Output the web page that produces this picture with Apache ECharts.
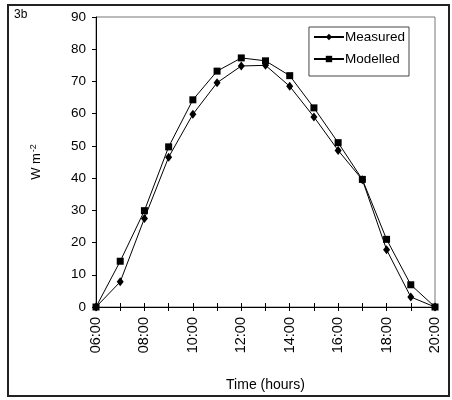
<!DOCTYPE html>
<html>
<head>
<meta charset="utf-8">
<script src="https://cdn.jsdelivr.net/npm/echarts@6/dist/echarts.min.js"></script>
<style>
  html, body { margin: 0; padding: 0; background: #fff; }
  #chart { width: 452px; height: 400px; }
</style>
</head>
<body>
<div id="chart"></div>
<script>
// Hourly times of day
const hours = ['06:00','07:00','08:00','09:00','10:00','11:00','12:00','13:00',
               '14:00','15:00','16:00','17:00','18:00','19:00','20:00'];
// Flux in W m-2
const measured = [0, 7.8, 27.5, 46.5, 59.8, 69.6, 74.8, 75, 68.5, 59, 48.6, 39.5, 17.8, 3.1, 0];
const modelled = [0, 14.2, 29.9, 49.7, 64.3, 73.2, 77.3, 76.4, 71.8, 61.8, 51, 39.6, 21, 6.9, 0];

const FONT = 'Liberation Sans';
const chart = echarts.init(document.getElementById('chart'), null, { renderer: 'canvas' });

chart.setOption({
  animation: false,
  backgroundColor: '#fff',
  textStyle: { fontFamily: FONT, color: '#000' },
  grid: { left: 96, right: 17, top: 17, bottom: 93, show: true, borderColor: '#777', borderWidth: 1 },
  legend: {
    right: 43, top: 27, orient: 'vertical', itemGap: 8,
    itemWidth: 30, itemHeight: 8,
    borderColor: '#444', borderWidth: 1, padding: [3, 4, 10, 4],
    textStyle: { fontFamily: FONT, fontSize: 13.5, color: '#000', padding: [0, 0, 0, -4] },
    data: ['Measured', 'Modelled']
  },
  xAxis: [{
    type: 'category', data: hours, boundaryGap: false,
    name: 'Time (hours)', nameLocation: 'middle', nameGap: 71,
    nameTextStyle: { fontFamily: FONT, fontSize: 14, color: '#000' },
    axisLine: { lineStyle: { color: '#000', width: 1 } },
    axisTick: { interval: 0, length: 4, lineStyle: { color: '#000' } },
    axisLabel: { interval: 1, rotate: 90, fontFamily: FONT, fontSize: 14.5, color: '#000', margin: 10 },
    splitLine: { show: false }
  }, {
    type: 'category', data: hours, boundaryGap: false, position: 'bottom',
    axisLine: { show: false },
    axisTick: { interval: 0, inside: true, length: 4, lineStyle: { color: '#000' } },
    axisLabel: { show: false },
    splitLine: { show: false }
  }],
  yAxis: {
    type: 'value', min: 0, max: 90, interval: 10,
    name: '{a|W m}{s|-2}', nameLocation: 'middle', nameRotate: 90, nameGap: 52,
    nameTextStyle: {
      rich: {
        a: { fontFamily: FONT, fontSize: 13, color: '#000' },
        s: { fontFamily: FONT, fontSize: 9, color: '#000', verticalAlign: 'top', padding: [0, 0, 6, 1] }
      }
    },
    axisLine: { show: true, lineStyle: { color: '#000', width: 1 } },
    axisTick: { show: true, length: 4, lineStyle: { color: '#000' } },
    axisLabel: { fontFamily: FONT, fontSize: 13.5, color: '#000', margin: 10 },
    splitLine: { show: false }
  },
  series: [{
    name: 'Measured', type: 'line', data: measured,
    symbol: 'diamond', symbolSize: [7, 9],
    lineStyle: { color: '#000', width: 1 },
    itemStyle: { color: '#000' }
  }, {
    name: 'Modelled', type: 'line', data: modelled,
    symbol: 'rect', symbolSize: 7,
    lineStyle: { color: '#000', width: 1 },
    itemStyle: { color: '#000' }
  }],
  graphic: [
    { type: 'rect', shape: { x: 8, y: 5, width: 441, height: 391 },
      style: { fill: 'none', stroke: '#222', lineWidth: 2 }, z: 100 },
    { type: 'text', left: 14, top: 9,
      style: { text: '3b', fontFamily: FONT, fontSize: 12, fill: '#000' } }
  ]
});
</script>
</body>
</html>
